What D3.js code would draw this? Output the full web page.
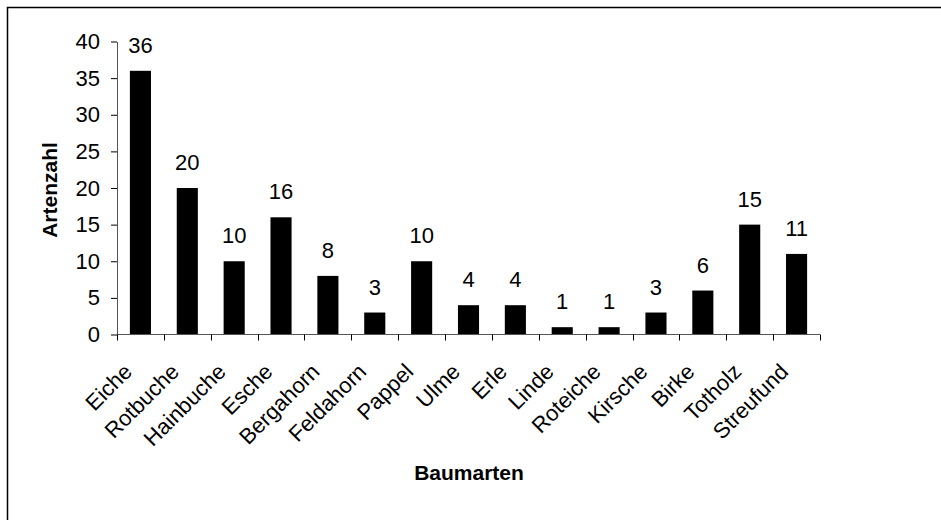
<!DOCTYPE html>
<html><head><meta charset="utf-8">
<script src="https://cdn.jsdelivr.net/npm/d3@7"></script>
<style>
html,body{margin:0;padding:0;background:#fff;}
svg{display:block;font-family:"Liberation Sans",Arial,sans-serif;}
</style></head>
<body>
<svg id="chart" width="941" height="520"></svg>
<script>
const categories = ["Eiche","Rotbuche","Hainbuche","Esche","Bergahorn","Feldahorn","Pappel","Ulme","Erle","Linde","Roteiche","Kirsche","Birke","Totholz","Streufund"];
const values = [36,20,10,16,8,3,10,4,4,1,1,3,6,15,11];
const yTicks = [0,5,10,15,20,25,30,35,40];
const yTitle = "Artenzahl";
const xTitle = "Baumarten";

const svg = d3.select("#chart");
svg.append("rect").attr("x",7.5).attr("y",7.5).attr("width",960).attr("height",540)
  .attr("fill","none").attr("stroke","#000").attr("stroke-width",1.5);

const x0 = 117, x1 = 820, yBase = 334.5, yTop = 41.5;
const x = d3.scaleBand().domain(categories).range([x0,x1]).paddingInner(0.55).paddingOuter(0.275);
const y = d3.scaleLinear().domain([0,40]).range([yBase,yTop]);

// bars
svg.append("g").selectAll("rect").data(values).join("rect")
  .attr("x",(d,i)=>x(categories[i]))
  .attr("y",d=>y(d))
  .attr("width",x.bandwidth())
  .attr("height",d=>yBase-y(d))
  .attr("fill","#000");

// value labels
svg.append("g").selectAll("text").data(values).join("text")
  .attr("x",(d,i)=>x(categories[i])+x.bandwidth()/2)
  .attr("y",d=>y(d)-18)
  .attr("text-anchor","middle")
  .attr("font-size",22)
  .attr("fill","#000")
  .text(d=>d);

// y axis
const yAxis = d3.axisLeft(y).tickValues(yTicks).tickSize(6).tickPadding(11).tickSizeOuter(0);
const gy = svg.append("g").attr("transform",`translate(${x0},0)`).call(yAxis);
gy.select(".domain").attr("stroke","#555");
gy.selectAll(".tick line").attr("stroke","#000");
gy.selectAll("text").attr("font-size",22).attr("font-family","Liberation Sans, Arial, sans-serif").attr("fill","#000");

// x axis: line and ticks at category boundaries
const step = x.step();
const bounds = d3.range(categories.length+1).map(i=>x0+i*step);
svg.append("line").attr("x1",x0).attr("x2",x1).attr("y1",yBase).attr("y2",yBase).attr("stroke","#555");
svg.append("g").selectAll("line").data(bounds).join("line")
  .attr("x1",d=>Math.round(d)+0.5).attr("x2",d=>Math.round(d)+0.5)
  .attr("y1",yBase).attr("y2",yBase+6).attr("stroke","#000");

// x tick labels rotated
svg.append("g").selectAll("text").data(categories).join("text")
  .attr("transform",d=>`translate(${x(d)+x.bandwidth()/2-7},373) rotate(-45)`)
  .attr("text-anchor","end")
  .attr("font-size",22)
  .attr("fill","#000")
  .text(d=>d);

// titles
svg.append("text").attr("transform","translate(57,190) rotate(-90)")
  .attr("text-anchor","middle").attr("font-size",21).attr("font-weight","bold").text(yTitle);
svg.append("text").attr("x",469).attr("y",480)
  .attr("text-anchor","middle").attr("font-size",21).attr("font-weight","bold").text(xTitle);
</script>
</body></html>
